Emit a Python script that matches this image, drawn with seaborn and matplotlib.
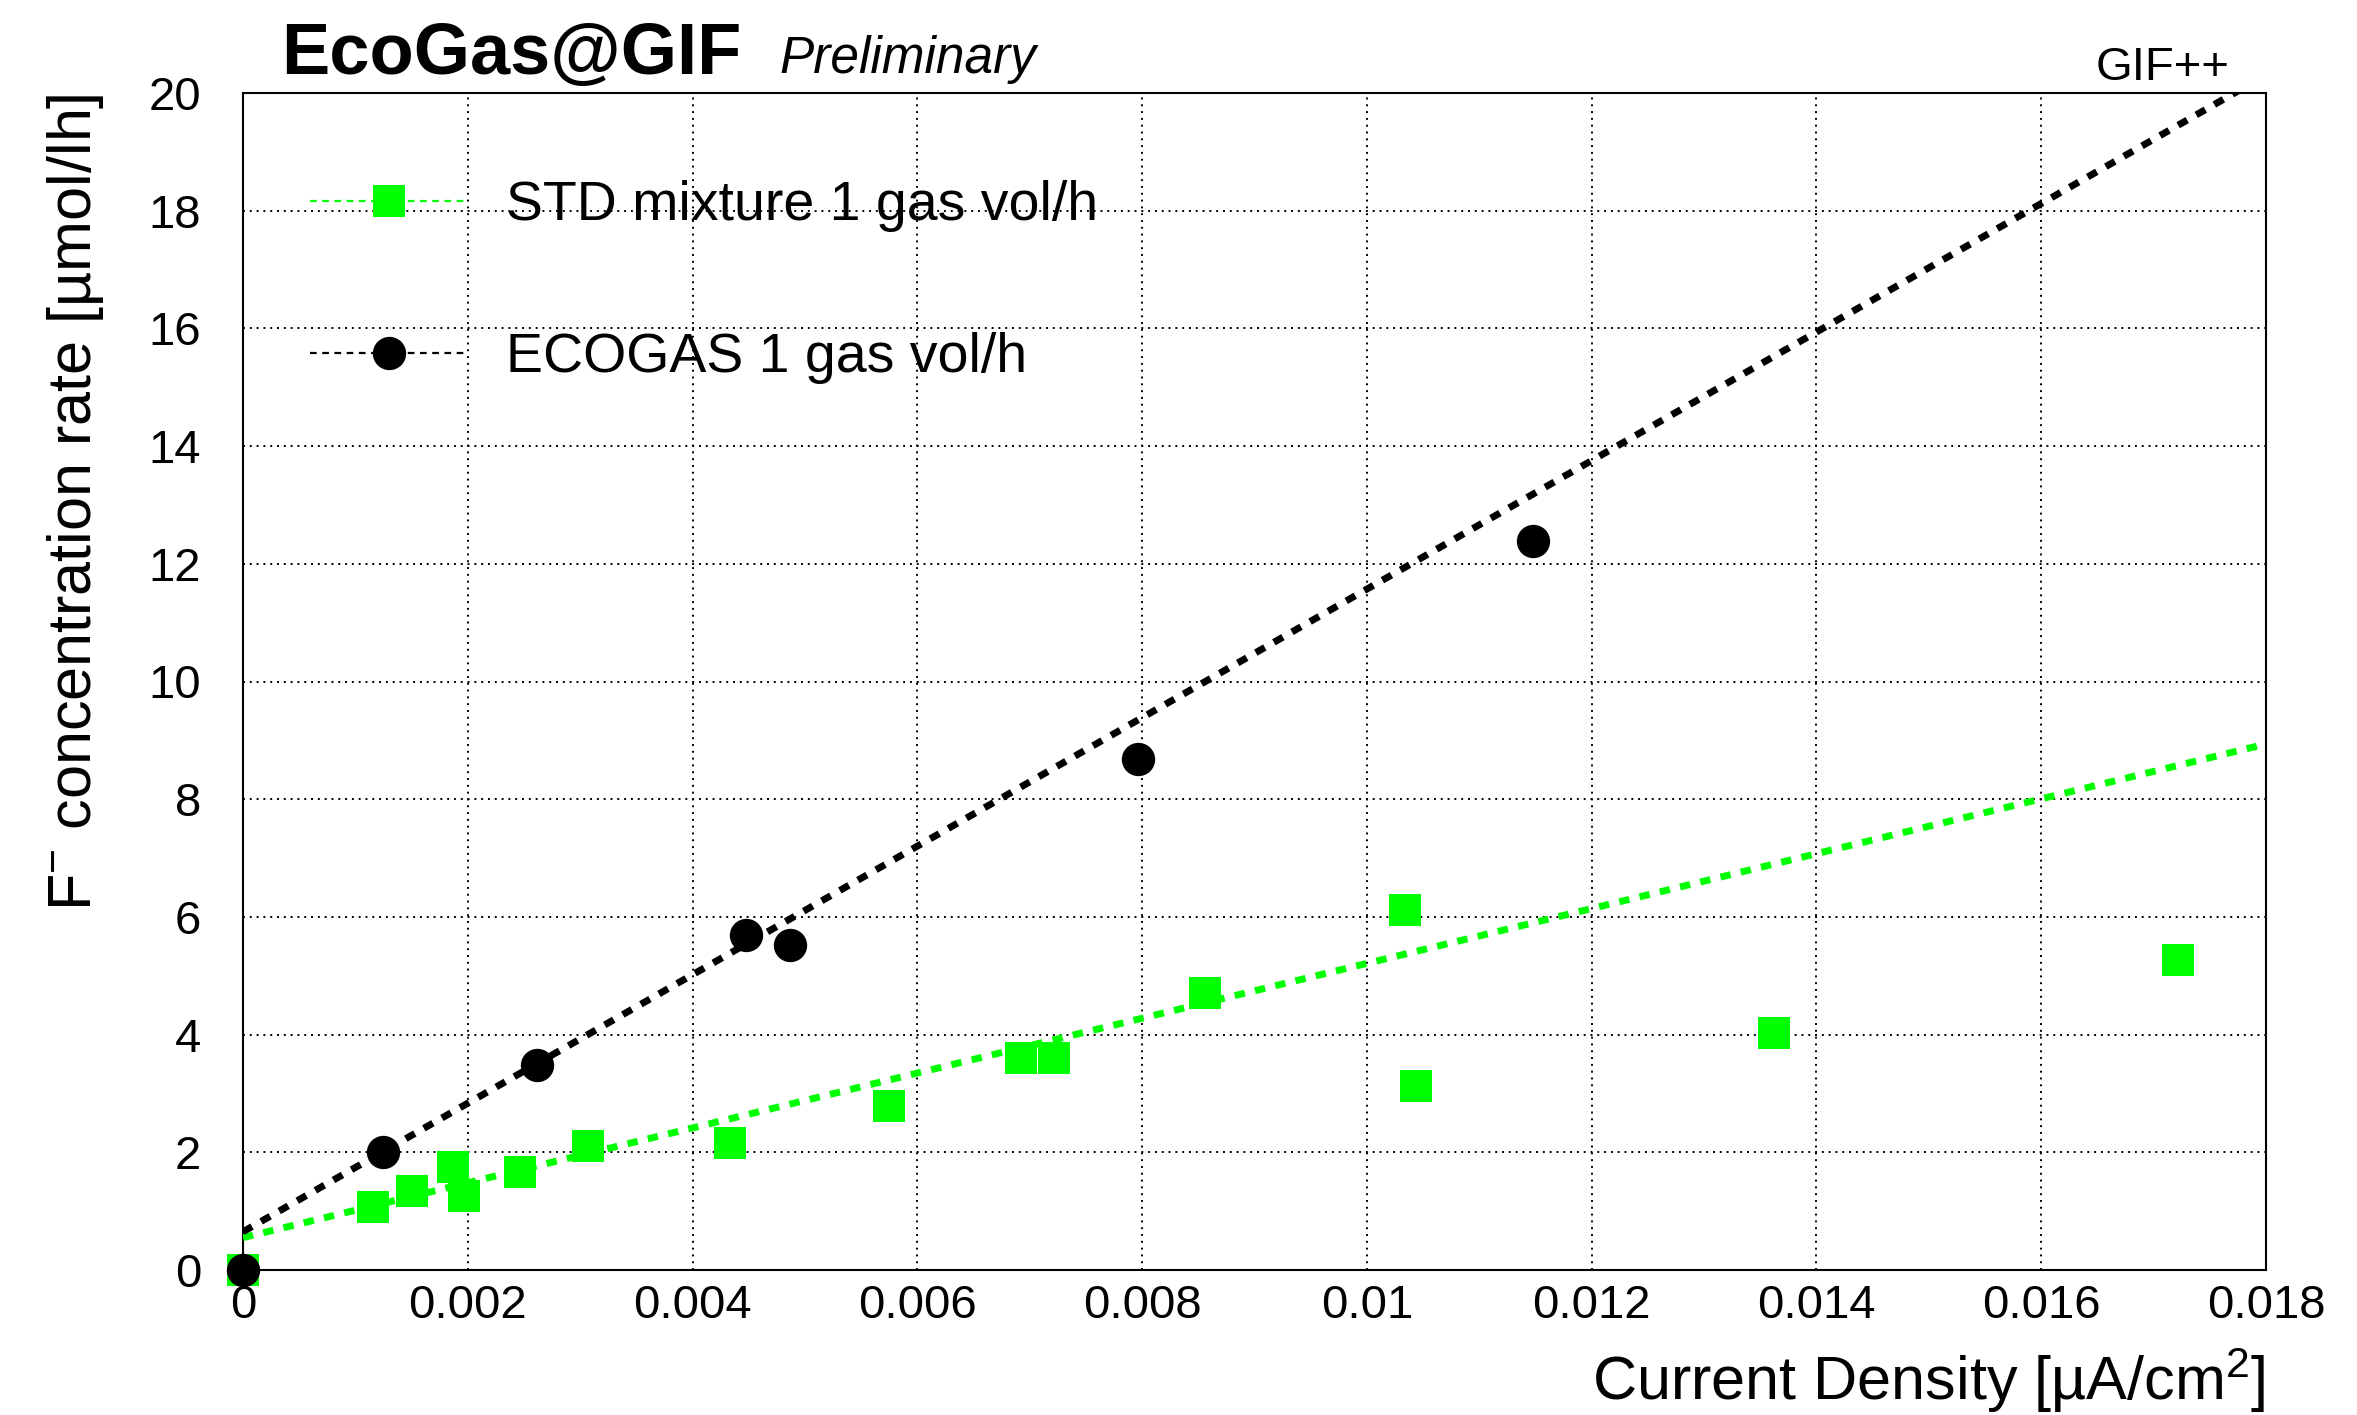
import numpy as np
import pandas as pd
import matplotlib
matplotlib.use("Agg")
import matplotlib.pyplot as plt
from matplotlib.lines import Line2D
from matplotlib.ticker import MultipleLocator
import seaborn as sns

# ---- measured F- production rate vs current density ----
std_x = [0.0, 0.001156, 0.001501, 0.00187, 0.001966, 0.002465, 0.003071,
         0.004334, 0.00575, 0.006918, 0.007218, 0.008563, 0.010342,
         0.010434, 0.013626, 0.017213]
std_y = [0.0, 1.07, 1.34, 1.75, 1.25, 1.66, 2.10, 2.15, 2.79, 3.60, 3.60,
         4.71, 6.12, 3.12, 4.02, 5.26]

eco_x = [0.0, 0.001246, 0.002618, 0.004476, 0.004867, 0.007962, 0.011474]
eco_y = [0.0, 2.0, 3.49, 5.69, 5.53, 8.68, 12.38]

# linear fit parameters (intercept, slope)
std_fit = (0.55, 466.0)
eco_fit = (0.65, 1092.0)
fit_range = [0.0, 0.018]

std_label = "STD mixture 1 gas vol/h"
eco_label = "ECOGAS 1 gas vol/h"

x_ticks = [0.0, 0.002, 0.004, 0.006, 0.008, 0.010, 0.012, 0.014, 0.016, 0.018]
x_ticklabels = ["0", "0.002", "0.004", "0.006", "0.008", "0.01", "0.012",
                "0.014", "0.016", "0.018"]
y_ticks = [0, 2, 4, 6, 8, 10, 12, 14, 16, 18, 20]

GREEN = "#00ff00"
BLACK = "#000000"

sns.set_theme(style="white")
plt.rcParams["font.family"] = ["Liberation Sans", "DejaVu Sans"]
plt.rcParams["mathtext.fontset"] = "custom"
plt.rcParams["mathtext.rm"] = "Liberation Sans"
plt.rcParams["mathtext.it"] = "Liberation Sans:italic"
plt.rcParams["mathtext.bf"] = "Liberation Sans:bold"
plt.rcParams["text.color"] = "black"
plt.rcParams["axes.labelcolor"] = "black"
plt.rcParams["xtick.color"] = "black"
plt.rcParams["ytick.color"] = "black"

W, H = 2357, 1415
fig = plt.figure(figsize=(W / 100, H / 100), dpi=100)
fig.patch.set_facecolor("white")
ax = fig.add_axes([243 / W, 1 - 1270 / H, 2023 / W, 1177 / H])
ax.set_facecolor("white")

# fit lines
fx = np.array(fit_range)
std_line = pd.DataFrame({"x": fx, "y": std_fit[0] + std_fit[1] * fx})
eco_line = pd.DataFrame({"x": fx, "y": eco_fit[0] + eco_fit[1] * fx})
sns.lineplot(data=std_line, x="x", y="y", ax=ax, color=GREEN, lw=5,
             linestyle=(0, (1.5, 1.5)), zorder=3, legend=False)
sns.lineplot(data=eco_line, x="x", y="y", ax=ax, color=BLACK, lw=5,
             linestyle=(0, (1.5, 1.5)), zorder=3, legend=False)

# data points
sns.scatterplot(x=std_x, y=std_y, ax=ax, marker="s", s=529, color=GREEN,
                linewidth=0, zorder=4, clip_on=False, legend=False)
sns.scatterplot(x=eco_x, y=eco_y, ax=ax, marker="o", s=576, color=BLACK,
                linewidth=0, zorder=5, clip_on=False, legend=False)

ax.set_xlim(0, 0.018)
ax.set_ylim(0, 20)
ax.set_xticks(x_ticks)
ax.set_xticklabels(x_ticklabels)
ax.set_yticks(y_ticks)
ax.xaxis.set_minor_locator(MultipleLocator(0.0005))
ax.yaxis.set_minor_locator(MultipleLocator(0.5))

ax.tick_params(axis="both", which="both", direction="in", top=False,
               right=False, color="black", width=1.5, labelsize=34,
               labelcolor="black")
ax.tick_params(axis="x", which="major", length=29, pad=10)
ax.tick_params(axis="x", which="minor", length=16)
ax.tick_params(axis="y", which="major", length=41, pad=30)
ax.tick_params(axis="y", which="minor", length=20)

for sp in ax.spines.values():
    sp.set_visible(True)
    sp.set_color("black")
    sp.set_linewidth(1.5)

ax.grid(True, which="major", color="black", linestyle=(0, (1, 2.5)),
        linewidth=1.4)
ax.set_axisbelow(True)

ax.set_xlabel(r"Current Density [µA/cm$^{2}$]", fontsize=44, loc="right")
ax.xaxis.set_label_coords(1.0, -0.1105)
ax.xaxis.label.set_va("baseline")
ax.set_ylabel(r"F$^{-}$ concentration rate [µmol/lh]", fontsize=44, loc="top")
ax.yaxis.set_label_coords(-0.0751, 1.0)
ax.yaxis.label.set_va("baseline")

# legend
handles = [
    Line2D([], [], color=GREEN, lw=1.6, linestyle=(0, (3, 2.5)), marker="s",
           markersize=23, markeredgewidth=0, markerfacecolor=GREEN),
    Line2D([], [], color=BLACK, lw=1.6, linestyle=(0, (3, 2.5)), marker="o",
           markersize=24, markeredgewidth=0, markerfacecolor=BLACK),
]
ax.legend(handles, [std_label, eco_label], loc="upper left",
          bbox_to_anchor=(0.0331, 0.926), frameon=False, fontsize=40,
          handlelength=2.85, handletextpad=0.68, labelspacing=1.8,
          borderpad=0, borderaxespad=0, numpoints=1)

# header texts
fig.text(281 / W, 1 - 73.5 / H, "EcoGas@GIF", fontsize=52, fontweight="bold",
         ha="left", va="baseline")
fig.text(779 / W, 1 - 72.7 / H, "Preliminary", fontsize=37, style="italic",
         ha="left", va="baseline")
fig.text(2230 / W, 1 - 80 / H, "GIF++", fontsize=34, ha="right",
         va="baseline")

fig.savefig("out.png", dpi=100, facecolor="white")
